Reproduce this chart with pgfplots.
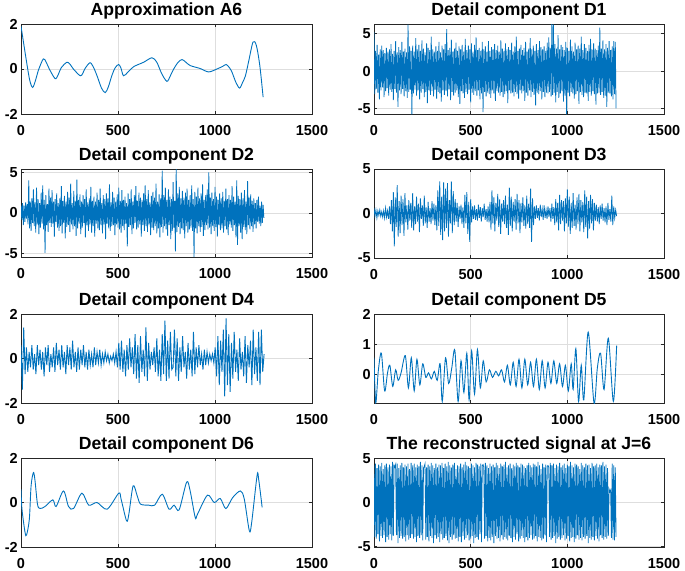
\documentclass[border=0pt]{standalone}
\usepackage{fontspec}
\setmainfont{Liberation Sans}
\usepackage{pgfplots}
\pgfplotsset{compat=1.18}
\definecolor{mblue}{RGB}{0,114,189}
\pgfplotsset{
 mystyle/.style={
  scale only axis, width=291pt, height=90pt,
  xmin=0, xmax=1500, xtick={0,500,1000,1500},
  grid=major, major grid style={black!13, line width=0.6pt},
  axis line style={black!85, line width=0.9pt},
  tick style={black!85, line width=0.6pt}, major tick length=3pt,
  tick label style={font=\bfseries\fontsize{14.5}{14.5}\selectfont},
  /pgf/number format/assume math mode=true,
  /pgf/number format/1000 sep={},
  xticklabel style={anchor=north, inner sep=0pt, yshift=-11pt},
  yticklabel style={anchor=east, inner sep=0pt, xshift=-3pt},
  title style={font=\bfseries\fontsize{17.6}{17.6}\selectfont, at={(0.5,1)}, anchor=base, yshift=3pt},
  anchor=north west,
 },
 sig/.style={color=mblue, line width=0.9pt, mark=none},
 sigd/.style={color=mblue, line width=0.8pt, mark=none},
}
\begin{document}
\begin{tikzpicture}
% ---------------- A6
\begin{axis}[mystyle, at={(21pt,-24pt)}, ymin=-2, ymax=2, ytick={-2,0,2}, title={Approximation A6}]
\addplot[sig, smooth, tension=0.5] coordinates {(0,1.9) (9,1.4) (29,0.3) (45,-0.5) (60,-0.82) (75,-0.5) (90,-0.05) (115,0.45) (130,0.3) (146,0.0) (176,-0.43) (192,-0.25) (207,0.05) (236,0.3) (252,0.22) (270,0.0) (305,-0.3) (318,-0.2) (330,0.02) (356,0.28) (375,0.05) (394,-0.35) (415,-0.85) (434,-1.05) (450,-0.8) (468,-0.3) (485,0.05) (503,0.2) (515,0.05) (528,-0.3) (550,-0.15) (580,0.1) (632,0.3) (675,0.5) (700,0.3) (725,-0.2) (752,-0.55) (770,-0.3) (787,0.0) (810,0.3) (830,0.42) (850,0.3) (873,0.15) (924,0.02) (967,-0.13) (1010,0.0) (1040,0.12) (1058,0.2) (1075,0.05) (1088,-0.15) (1108,-0.6) (1127,-0.85) (1142,-0.6) (1157,-0.3) (1175,0.4) (1196,1.2) (1213,1.05) (1231,0.15) (1248,-1.25)};
\end{axis}
% ---------------- D1
\begin{axis}[mystyle, at={(374pt,-24pt)}, width=290pt, ymin=-5.75, ymax=6.3, ytick={-5,0,5}, title={Detail component D1}]
\addplot[sigd] table[x expr=\coordindex*4, y index=0, header=false, row sep=\\] {
5.2\\-3.1\\2.7\\-2.4\\3.5\\-2.9\\2.2\\-3.8\\2.9\\-2.6\\
3.4\\-2.2\\2.8\\-3.5\\2.4\\-2.7\\3.1\\-2.3\\2.6\\-3.3\\
2.9\\-2.5\\3.6\\-2.8\\2.3\\-3.9\\2.7\\-2.4\\4.0\\-2.9\\
2.5\\-4.8\\3.2\\-2.6\\2.8\\-3.1\\3.9\\-2.4\\2.6\\-3.4\\
3.0\\-2.7\\2.5\\-3.6\\6.2\\-2.8\\3.3\\-2.5\\2.7\\-5.8\\
3.4\\-3.0\\2.6\\-2.5\\4.4\\-3.3\\2.9\\-2.6\\3.5\\-3.8\\
2.7\\-2.9\\4.1\\-2.4\\3.0\\-3.5\\2.5\\-2.8\\3.7\\-4.3\\
3.1\\-2.6\\2.8\\-3.2\\4.6\\-2.7\\2.9\\-3.4\\2.6\\-2.5\\
3.3\\-3.7\\2.7\\-2.8\\3.9\\-3.0\\2.5\\-4.1\\3.4\\-2.6\\
2.9\\-3.2\\3.6\\-2.7\\5.6\\-3.4\\2.8\\-2.5\\3.1\\-3.9\\
4.2\\-2.8\\2.6\\-3.3\\3.0\\-2.9\\3.8\\-2.6\\2.7\\-3.5\\
3.3\\-4.4\\2.9\\-2.7\\3.5\\-3.0\\2.6\\-3.6\\4.3\\-2.8\\
2.8\\-3.1\\3.4\\-2.5\\2.9\\-4.2\\3.7\\-2.9\\2.6\\-3.2\\
3.5\\-2.7\\4.5\\-3.3\\2.8\\-2.6\\3.1\\-3.8\\2.7\\-3.0\\
3.9\\-5.5\\2.9\\-2.8\\3.3\\-3.4\\2.6\\-2.9\\4.0\\-3.1\\
2.7\\-3.6\\3.2\\-2.6\\2.9\\-3.0\\3.6\\-4.0\\2.8\\-2.7\\
3.4\\-2.9\\2.6\\-3.3\\4.1\\-2.8\\3.0\\-3.5\\2.7\\-3.1\\
3.7\\-2.7\\2.9\\-4.3\\3.2\\-2.6\\2.8\\-3.0\\3.8\\-2.9\\
2.6\\-3.4\\3.3\\-2.8\\4.6\\-3.1\\2.7\\-3.7\\3.0\\-2.6\\
3.5\\-3.0\\2.8\\-2.7\\3.1\\-4.0\\3.9\\-2.9\\2.6\\-3.3\\
3.0\\-2.6\\4.4\\-3.5\\2.9\\-2.8\\3.4\\-3.2\\2.7\\-4.6\\
3.6\\-2.9\\2.8\\-3.1\\4.0\\-2.7\\3.2\\-3.8\\2.9\\-2.8\\
3.3\\-3.5\\2.7\\-2.9\\3.8\\-3.0\\4.5\\-2.8\\3.1\\-3.4\\
6.3\\-3.2\\6.2\\-2.9\\3.6\\-4.2\\3.0\\-2.8\\4.8\\-3.6\\
2.9\\-3.0\\3.5\\-2.7\\3.2\\-4.1\\2.8\\-3.3\\3.9\\-5.8\\
3.1\\-2.9\\2.7\\-3.4\\4.2\\-2.8\\3.3\\-3.0\\2.6\\-3.7\\
3.8\\-3.1\\2.9\\-2.7\\3.4\\-4.4\\3.0\\-2.8\\4.6\\-3.2\\
2.8\\-3.5\\3.6\\-2.9\\3.1\\-3.0\\2.7\\-4.0\\3.5\\-2.8\\
4.3\\-3.3\\2.9\\-2.7\\3.7\\-3.1\\3.0\\-4.5\\2.8\\-3.0\\
3.4\\-2.9\\5.8\\-3.2\\3.0\\-2.8\\4.1\\-3.6\\2.9\\-3.3\\
3.6\\-4.8\\3.1\\-2.9\\4.0\\-3.0\\2.8\\-3.4\\3.3\\-3.8\\
4.0\\-3.1\\3.9\\-5.0\\
};
\end{axis}
% ---------------- D2
\begin{axis}[mystyle, at={(21pt,-169pt)}, height=88pt, ymin=-5.4, ymax=5.4, ytick={-5,0,5}, title={Detail component D2}]
\addplot[sigd] table[x expr=\coordindex*4, y index=0, header=false, row sep=\\] {
1.0\\-0.8\\1.2\\-1.5\\0.9\\-1.1\\1.3\\-0.7\\1.1\\-1.4\\
4.0\\-1.9\\1.4\\-2.2\\1.8\\-1.2\\2.9\\-1.6\\1.3\\-2.4\\
3.1\\-1.4\\1.7\\-2.6\\1.2\\-1.8\\2.5\\-1.3\\3.4\\-2.0\\
1.6\\-4.9\\2.2\\-1.5\\1.1\\-2.3\\3.0\\-1.2\\1.9\\-1.7\\
2.8\\-1.3\\1.4\\-2.9\\1.7\\-1.1\\2.4\\-1.8\\1.2\\-2.2\\
1.8\\-1.6\\3.3\\-2.5\\1.5\\-1.2\\2.1\\-3.1\\1.4\\-1.7\\
2.6\\-1.5\\1.9\\-2.3\\3.6\\-1.4\\1.2\\-2.0\\2.7\\-1.6\\
1.5\\-2.8\\4.1\\-1.9\\1.6\\-1.3\\2.3\\-2.6\\1.4\\-1.8\\
2.2\\-1.2\\1.7\\-3.0\\2.9\\-1.5\\1.3\\-2.2\\1.8\\-1.4\\
3.2\\-2.4\\1.5\\-1.6\\2.0\\-2.9\\1.4\\-1.3\\2.5\\-1.9\\
1.6\\-2.1\\3.0\\-1.5\\1.2\\-2.5\\2.2\\-1.4\\1.7\\-3.2\\
2.4\\-1.3\\1.8\\-1.9\\3.5\\-2.2\\1.3\\-1.6\\2.6\\-1.5\\
1.9\\-2.7\\1.4\\-1.4\\2.3\\-1.8\\3.1\\-2.0\\1.5\\-2.4\\
2.8\\-1.6\\1.6\\-2.1\\2.0\\-1.3\\1.2\\-4.1\\2.4\\-1.7\\
1.7\\-1.5\\2.9\\-2.6\\1.4\\-1.9\\2.2\\-1.2\\3.3\\-2.0\\
1.5\\-1.8\\2.5\\-1.4\\1.9\\-2.9\\1.6\\-1.5\\2.4\\-2.2\\
3.4\\-1.6\\1.7\\-2.3\\2.8\\-1.4\\1.3\\-2.7\\2.1\\-1.8\\
2.6\\-2.1\\1.9\\-1.6\\3.6\\-2.5\\1.4\\-1.9\\2.3\\-3.0\\
1.8\\-1.7\\5.2\\-2.4\\2.2\\-1.6\\3.1\\-2.0\\1.6\\-2.8\\
2.9\\-1.5\\2.0\\-3.2\\1.7\\-2.2\\3.8\\-1.8\\1.5\\-4.7\\
5.4\\-2.3\\2.4\\-1.7\\3.2\\-2.6\\1.8\\-1.9\\2.7\\-2.1\\
1.9\\-3.1\\2.5\\-1.6\\3.0\\-2.4\\1.6\\-2.0\\2.2\\-1.8\\
3.4\\-2.2\\1.7\\-5.4\\2.6\\-1.9\\2.0\\-2.5\\3.1\\-1.6\\
1.8\\-2.3\\2.4\\-1.7\\3.5\\-2.8\\1.6\\-2.1\\2.2\\-1.5\\
2.9\\-2.0\\5.0\\-1.8\\1.9\\-2.6\\2.5\\-1.6\\1.7\\-2.2\\
3.2\\-1.7\\2.0\\-2.9\\1.6\\-1.5\\2.4\\-2.1\\1.8\\-1.9\\
2.6\\-2.4\\1.5\\-1.6\\3.0\\-2.0\\1.7\\-2.7\\2.2\\-1.4\\
1.6\\-1.8\\3.3\\-2.2\\2.0\\-1.5\\1.4\\-3.0\\4.0\\-3.9\\
2.1\\-1.6\\1.7\\-2.4\\2.5\\-3.2\\1.8\\-1.7\\2.8\\-2.1\\
1.4\\-2.6\\3.9\\-1.5\\1.9\\-2.0\\2.3\\-1.6\\1.5\\-2.3\\
1.8\\-1.4\\1.2\\-1.9\\1.6\\-1.1\\2.0\\-1.3\\0.9\\-1.6\\
1.4\\-1.2\\1.0\\-0.6\\
};
\end{axis}
% ---------------- D3
\begin{axis}[mystyle, at={(374pt,-169pt)}, width=290pt, height=89pt, ymin=-5, ymax=5, ytick={-5,0,5}, title={Detail component D3}]
\addplot[sigd] table[x expr=\coordindex*5, y index=0, header=false, row sep=\\] {
0.6\\-0.3\\0.4\\-0.5\\0.3\\-0.2\\0.4\\-0.3\\0.2\\-0.4\\
0.3\\-0.5\\0.6\\-0.4\\0.3\\-0.6\\0.8\\-1.2\\1.5\\-2.0\\
2.4\\-3.7\\1.8\\-1.5\\3.2\\-2.6\\1.4\\-2.2\\2.0\\-1.3\\
1.6\\-2.5\\2.3\\-1.0\\0.9\\-1.8\\1.5\\-0.8\\1.2\\-1.6\\
2.3\\-1.9\\0.8\\-1.2\\1.9\\-0.9\\1.1\\-2.1\\1.7\\-0.6\\
0.9\\-1.4\\2.0\\-1.1\\0.7\\-1.6\\1.3\\-0.9\\0.6\\-1.2\\
1.4\\-0.8\\1.1\\-1.3\\0.9\\-1.9\\2.6\\-1.4\\3.6\\-2.4\\
1.9\\-3.0\\3.5\\-2.0\\2.8\\-1.6\\3.4\\-2.6\\1.5\\-1.1\\
3.6\\-2.2\\2.5\\-1.3\\1.6\\-0.9\\1.2\\-1.5\\0.8\\-0.6\\
1.0\\-1.2\\0.7\\-1.6\\2.1\\-1.1\\2.4\\-2.3\\1.3\\-3.2\\
1.6\\-1.0\\0.8\\-0.6\\0.9\\-0.7\\0.5\\-0.8\\1.0\\-0.5\\
0.7\\-0.9\\0.6\\-0.4\\1.1\\-0.7\\0.5\\-0.9\\0.8\\-1.0\\
1.3\\-1.8\\2.6\\-1.1\\1.8\\-2.0\\1.2\\-0.8\\2.2\\-1.5\\
1.6\\-2.3\\1.1\\-0.9\\1.5\\-1.2\\2.0\\-1.6\\1.0\\-2.4\\
2.9\\-1.4\\1.9\\-2.0\\1.3\\-0.9\\1.6\\-1.8\\2.2\\-1.1\\
1.5\\-2.2\\1.2\\-1.0\\1.8\\-1.4\\0.9\\-1.7\\2.0\\-1.2\\
1.1\\-1.6\\2.8\\-3.2\\1.7\\-1.3\\0.8\\-0.6\\0.9\\-0.5\\
0.6\\-0.8\\1.0\\-0.4\\0.5\\-0.7\\0.9\\-0.5\\0.4\\-0.6\\
0.8\\-0.4\\0.6\\-0.9\\1.1\\-0.6\\0.7\\-1.3\\1.6\\-1.0\\
1.2\\-1.9\\2.1\\-1.2\\1.5\\-0.8\\1.4\\-2.0\\1.7\\-1.1\\
2.7\\-1.5\\1.9\\-2.3\\1.2\\-1.6\\2.3\\-1.4\\1.0\\-1.8\\
1.8\\-1.2\\2.2\\-2.0\\1.5\\-1.0\\1.3\\-2.1\\2.6\\-1.5\\
1.9\\-2.8\\1.4\\-1.7\\2.1\\-1.1\\1.6\\-1.9\\1.2\\-0.8\\
1.0\\-0.9\\0.7\\-1.2\\0.9\\-0.6\\1.1\\-0.8\\0.6\\-1.0\\
0.8\\-1.3\\1.2\\-0.7\\0.5\\-0.9\\2.0\\-1.3\\0.8\\-0.5\\0.4\\-0.3\\
};
\end{axis}
% ---------------- D4
\begin{axis}[mystyle, at={(21pt,-314pt)}, height=89pt, ymin=-2, ymax=2, ytick={-2,0,2}, title={Detail component D4}]
\addplot[sig] table[x expr=\coordindex*7, y index=0, header=false, row sep=\\] {
0.6\\-1.4\\1.4\\-0.7\\0.5\\-0.6\\0.3\\-0.4\\0.6\\-0.5\\
0.2\\-0.7\\0.6\\-0.3\\0.4\\-0.5\\0.3\\-0.8\\0.5\\-0.3\\
0.6\\-0.6\\0.2\\-0.4\\0.5\\-0.6\\0.7\\-0.3\\0.4\\-0.5\\
0.6\\-0.4\\0.3\\-0.7\\0.6\\-0.3\\0.5\\-0.5\\0.8\\-0.4\\
0.3\\-0.6\\0.5\\-0.5\\0.4\\-0.3\\0.6\\-0.4\\0.3\\-0.5\\
0.4\\-0.3\\0.2\\-0.4\\0.5\\-0.3\\0.3\\-0.2\\0.4\\-0.3\\
0.2\\-0.2\\0.3\\-0.1\\0.2\\-0.2\\0.1\\-0.1\\0.2\\-0.2\\
0.3\\-0.4\\0.7\\-0.5\\0.8\\-0.6\\0.4\\-0.8\\0.6\\-0.5\\
0.9\\-0.4\\0.5\\-0.7\\1.1\\-0.9\\0.6\\-1.1\\1.0\\-0.6\\
0.4\\-0.8\\1.4\\-1.0\\0.7\\-0.5\\0.3\\-0.3\\0.5\\-0.6\\
0.9\\-0.8\\0.4\\-1.0\\1.1\\-0.7\\1.7\\-1.0\\0.8\\-0.9\\
1.2\\-0.5\\-0.4\\1.3\\-0.8\\0.9\\-1.0\\0.5\\-0.6\\1.0\\
-0.4\\0.3\\-0.9\\0.7\\-0.5\\0.4\\-0.8\\1.2\\-0.7\\0.5\\
-0.4\\0.6\\-0.3\\0.2\\-0.5\\0.4\\-0.3\\0.3\\-0.2\\0.2\\
-0.1\\0.2\\-0.2\\0.5\\-0.8\\1.0\\-1.2\\0.8\\-0.6\\1.3\\
-1.7\\1.8\\-1.2\\1.1\\-1.5\\0.7\\-0.9\\1.2\\-0.6\\0.4\\
-1.0\\0.9\\-0.5\\0.3\\-0.8\\1.0\\-1.1\\0.6\\-0.4\\0.8\\
-1.2\\1.3\\-0.7\\0.5\\-1.0\\1.2\\-1.2\\1.3\\-0.6\\0.2\\
};
\end{axis}
% ---------------- D5
\begin{axis}[mystyle, at={(374pt,-314pt)}, width=290pt, height=89pt, ymin=-0.95, ymax=2, ytick={0,1,2}, title={Detail component D5}]
\addplot[sig, smooth, tension=0.5] coordinates {(0,0.55)(9,-0.95)(22,0.1)(38,0.7)(55,-0.55)(70,0.05)(82,0.3)(97,-0.4)(112,0.15)(125,-0.2)(140,0.05)(162,0.62)(178,-0.45)(193,0.55)(208,-0.55)(222,0.5)(237,-0.35)(252,0.35)(268,-0.1)(282,0.05)(297,-0.15)(312,0.1)(327,-0.2)(342,0.35)(353,-0.9)(370,0.55)(386,-0.3)(402,0.2)(418,0.8)(435,-0.9)(450,0.45)(465,-0.6)(480,0.7)(492,-0.85)(505,0.78)(520,-0.65)(535,0.82)(550,-0.45)(565,0.45)(580,-0.25)(597,0.15)(613,-0.1)(630,0.1)(645,-0.05)(660,0.15)(675,-0.25)(690,0.3)(705,-0.35)(720,0.4)(735,-0.4)(750,0.5)(765,-0.45)(780,0.5)(795,-0.35)(810,0.4)(825,-0.4)(840,0.5)(855,-0.5)(870,0.45)(885,-0.45)(900,0.4)(915,-0.3)(930,0.45)(945,-0.3)(960,0.35)(975,-0.4)(990,0.3)(1005,-0.55)(1020,0.35)(1030,-0.5)(1044,0.85)(1058,-0.9)(1072,0.3)(1085,-0.85)(1108,1.4)(1138,-0.95)(1155,0.2)(1172,0.7)(1190,-0.5)(1212,1.2)(1238,-0.9)(1255,0.95)};
\end{axis}
% ---------------- D6
\begin{axis}[mystyle, at={(21pt,-458pt)}, height=89pt, ymin=-2, ymax=2, ytick={-2,0,2}, title={Detail component D6}]
\addplot[sig, smooth, tension=0.5] coordinates {(0,0.6)(5,-0.3)(21,-1.35)(29,-1.45)(43,-0.75)(52,0.75)(64,1.35)(72,1.0)(85,-0.08)(98,-0.27)(124,-0.18)(164,0.12)(181,-0.18)(219,0.52)(245,-0.18)(271,-0.27)(314,0.42)(349,-0.12)(392,0)(444,-0.3)(504,0.42)(516,0.15)(544,-0.82)(556,-0.52)(578,0.75)(599,0.3)(616,-0.07)(659,-0.12)(689,-0.12)(728,0.37)(763,-0.3)(789,-0.12)(815,-0.33)(854,0.92)(872,0.52)(898,-0.67)(910,-0.52)(961,0.33)(996,0)(1027,0.18)(1056,-0.27)(1091,0.22)(1131,0.52)(1151,0.15)(1177,-1.27)(1189,-0.9)(1217,1.22)(1225,1.05)(1243,-0.22)};
\end{axis}
% ---------------- Reconstructed
\begin{axis}[mystyle, at={(374pt,-458pt)}, width=290pt, height=89pt, ymin=-5.05, ymax=5.05, ytick={-5,0,5}, title={The reconstructed signal at J=6}]
\addplot[sigd] table[x expr=\coordindex*4, y index=0, header=false, row sep=\\] {
4.2\\-3.9\\4.4\\-4.1\\3.9\\-3.6\\4.3\\-4.4\\4.1\\-3.8\\
4.5\\-4.0\\3.8\\-3.7\\4.2\\-4.5\\4.4\\-3.9\\4.0\\-4.2\\
4.3\\-3.6\\4.1\\-4.3\\4.6\\-3.8\\4.2\\4.0\\4.3\\-3.7\\
4.4\\-4.6\\3.9\\-4.0\\4.2\\-3.8\\4.5\\-4.1\\4.0\\-3.9\\
4.3\\-4.4\\4.1\\-3.7\\4.4\\-4.2\\3.8\\-4.0\\4.5\\-3.6\\
4.2\\-4.1\\4.4\\-3.9\\4.0\\-4.5\\4.3\\-3.8\\4.1\\-4.0\\
4.6\\-3.7\\4.2\\-4.3\\3.9\\4.1\\4.4\\-4.2\\4.0\\-3.9\\
4.3\\-4.4\\4.1\\-3.8\\4.5\\-4.0\\4.2\\-4.6\\3.9\\-3.7\\
4.4\\-4.1\\4.0\\-3.9\\4.3\\-4.5\\4.2\\-3.6\\4.5\\-4.2\\
3.9\\-4.0\\4.4\\-3.8\\4.1\\-4.3\\4.6\\-4.6\\4.2\\-3.9\\
4.0\\-4.2\\4.3\\-3.7\\4.5\\-4.1\\3.8\\-4.0\\4.2\\-4.4\\
4.1\\-3.9\\4.4\\-4.5\\4.0\\-3.8\\4.3\\-4.2\\4.6\\-4.0\\
4.2\\-3.7\\4.1\\-4.3\\3.9\\-4.1\\4.4\\-3.8\\4.2\\-4.6\\
4.0\\-4.0\\4.5\\-3.9\\4.3\\-4.2\\4.1\\-3.6\\4.4\\-4.5\\
4.2\\4.3\\4.0\\-4.1\\4.5\\-3.8\\4.2\\-4.4\\3.9\\-4.0\\
4.4\\-4.3\\4.1\\-3.9\\4.3\\-4.6\\4.0\\-3.8\\4.5\\-4.1\\
4.2\\-4.0\\3.9\\-4.4\\4.4\\-3.7\\4.1\\-4.2\\4.3\\-3.9\\
4.6\\-4.1\\4.0\\-4.3\\4.2\\-3.8\\4.4\\-4.0\\3.9\\-4.5\\
4.3\\-3.9\\4.1\\-4.2\\4.5\\-3.6\\4.2\\-4.4\\4.0\\-4.1\\
4.4\\-3.8\\4.3\\-4.0\\4.1\\-4.5\\3.9\\-3.9\\4.2\\-4.3\\
4.5\\-4.0\\4.2\\-3.7\\4.0\\-4.2\\4.4\\-4.1\\4.3\\-3.8\\
4.1\\-4.4\\4.6\\-3.9\\4.2\\-4.0\\3.8\\-4.3\\4.4\\-4.1\\
4.0\\-3.7\\4.3\\-4.5\\4.1\\4.2\\4.0\\-3.9\\4.5\\-4.2\\
4.2\\-4.0\\4.4\\-3.8\\3.9\\-4.6\\4.3\\-4.1\\4.1\\-3.9\\
4.5\\-4.2\\4.0\\-4.0\\4.2\\-3.7\\4.4\\-4.3\\3.9\\-4.1\\
4.3\\-3.8\\4.1\\-4.4\\4.6\\-4.0\\4.2\\-3.9\\4.0\\-4.5\\
4.4\\-4.1\\4.3\\-3.7\\4.1\\-4.2\\3.8\\-4.0\\4.5\\-4.3\\
4.2\\-3.9\\4.0\\-4.1\\4.4\\-3.8\\4.2\\-4.6\\4.3\\-4.0\\
3.9\\-4.2\\4.5\\-3.9\\4.1\\-4.3\\4.2\\-3.8\\4.4\\-4.1\\
4.0\\-4.4\\4.3\\-3.7\\4.2\\-4.0\\4.6\\-4.2\\4.1\\-3.9\\
4.3\\-4.1\\3.9\\-3.8\\1.5\\1.2\\1.4\\-4.0\\4.4\\-4.2\\
4.2\\-4.3\\4.0\\-3.9\\
};
\end{axis}
\pgfresetboundingbox
\path[use as bounding box] (0pt,0pt) rectangle (685pt,-570pt);
\end{tikzpicture}
\end{document}
